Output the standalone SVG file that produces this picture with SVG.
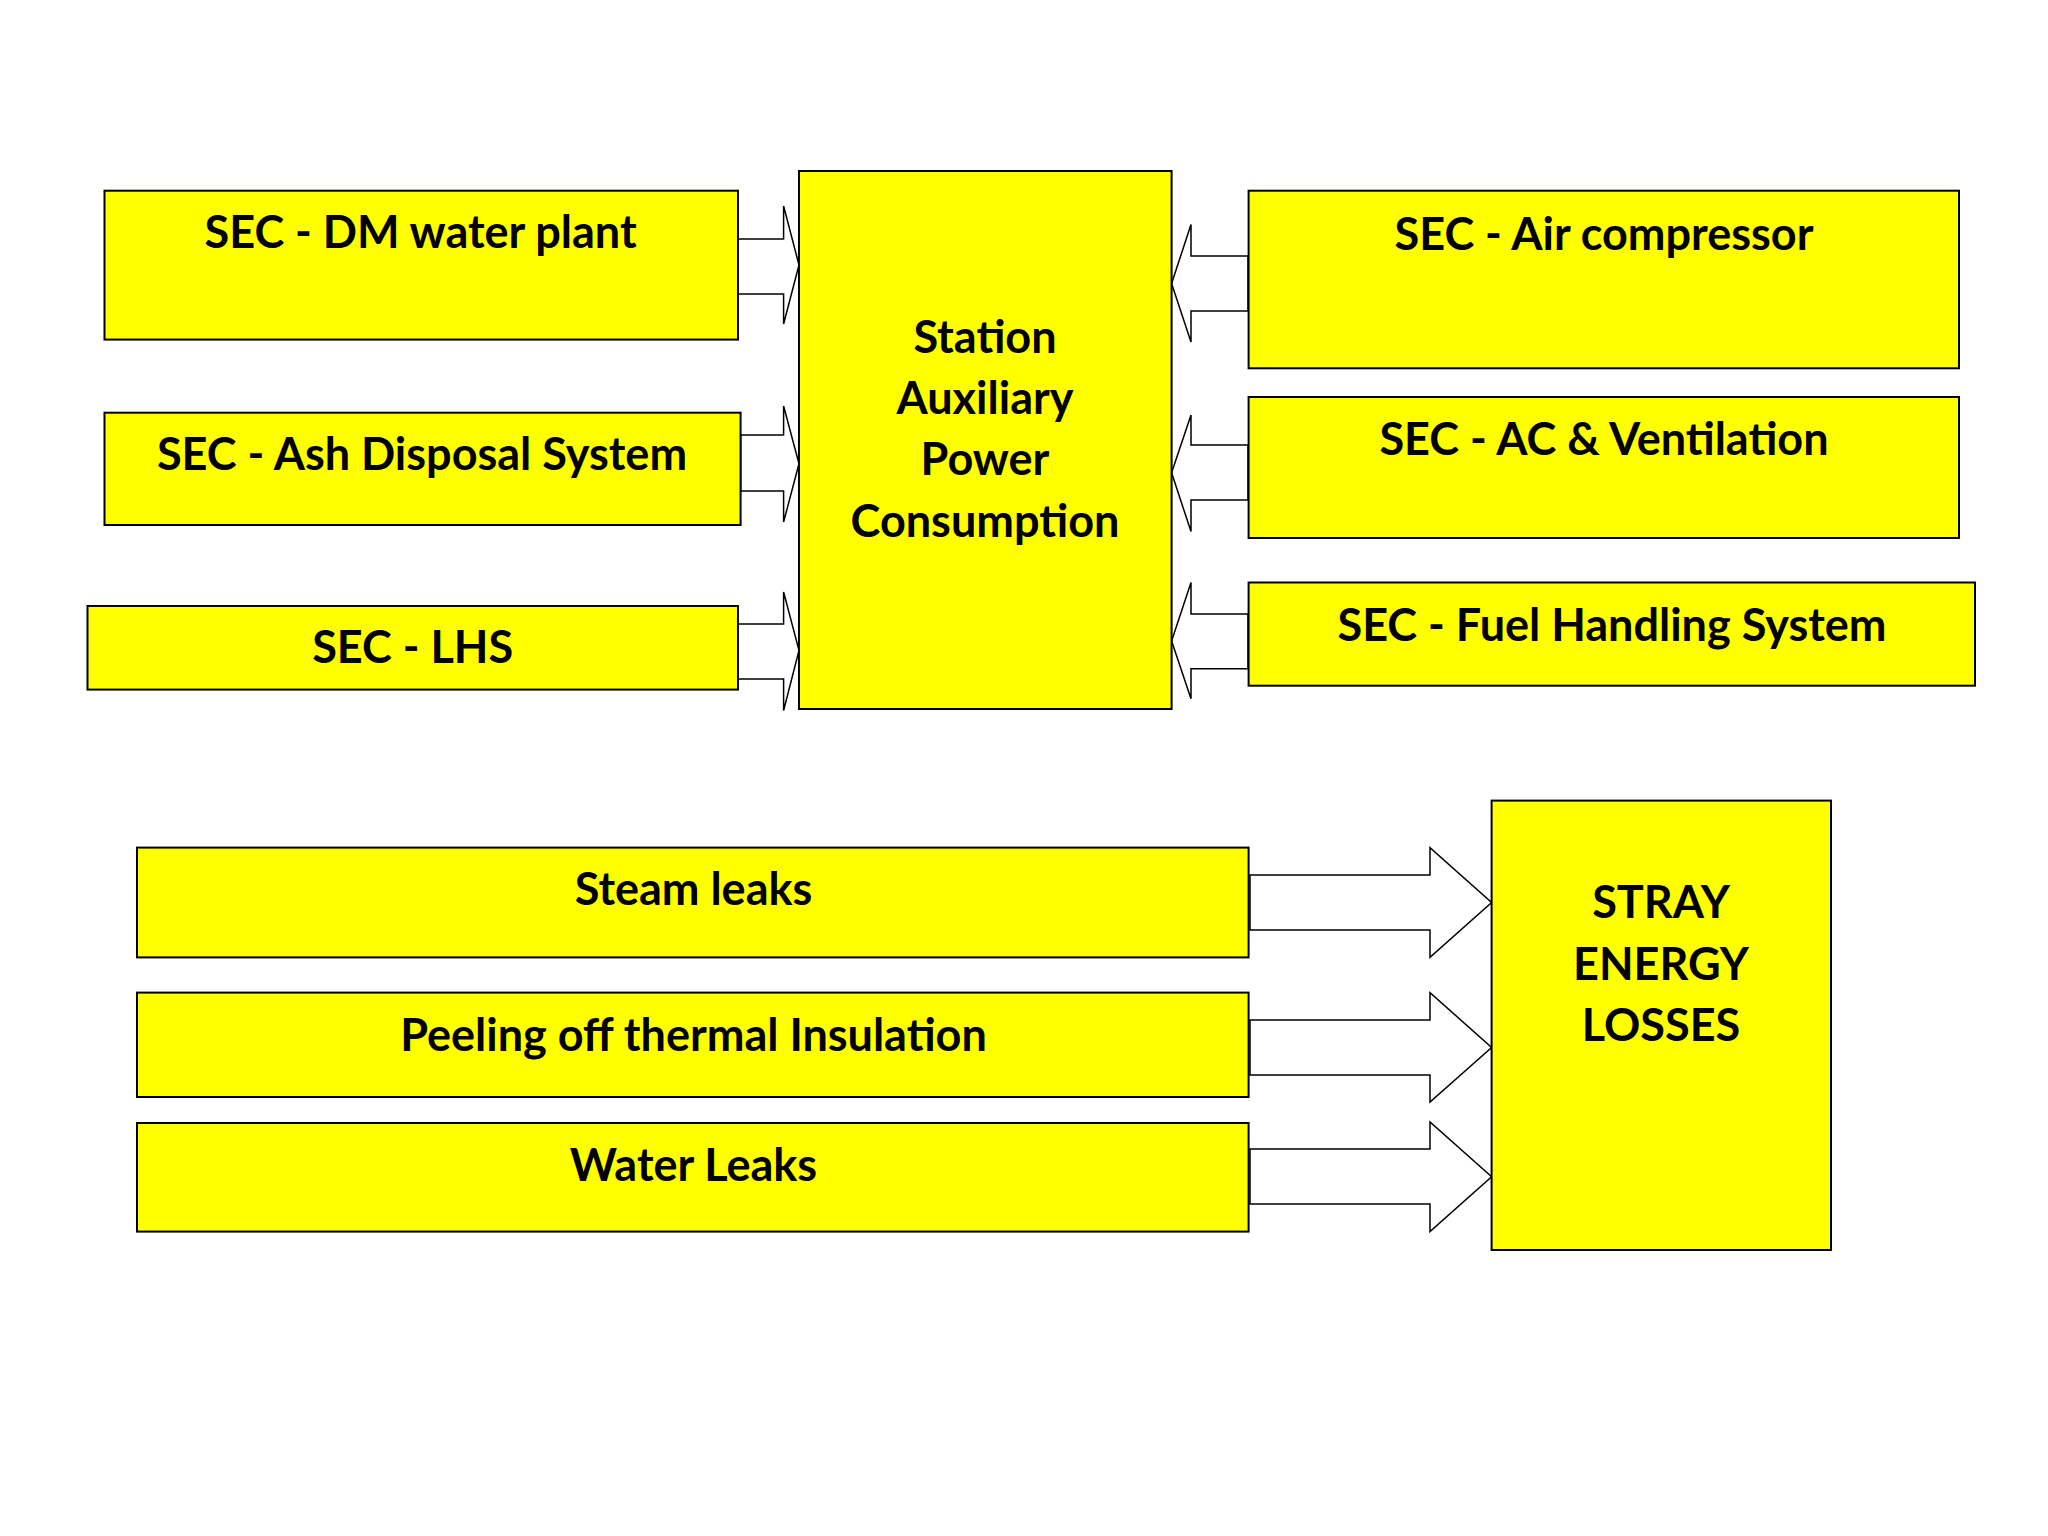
<svg xmlns="http://www.w3.org/2000/svg" width="2048" height="1536" viewBox="0 0 2048 1536">
<style>
.b{fill:#ffff00;stroke:#000;stroke-width:2}
.a{fill:#fff;stroke:#000;stroke-width:1.5}
text{font-family:Lato,"Open Sans",sans-serif;font-weight:bold;font-size:45px;text-anchor:middle;fill:#000}
</style>
<rect width="2048" height="1536" fill="#fff"/>
<g id="connectors">
<polygon class="a" points="738,239 783.6,239 783.6,206 799,265 783.6,324 783.6,294 738,294"/>
<polygon class="a" points="740.6,435 783.6,435 783.6,406 799,463.7 783.6,522 783.6,491 740.6,491"/>
<polygon class="a" points="738,624 783.6,624 783.6,592 799,650.4 783.6,710.5 783.6,679 738,679"/>
<polygon class="a" points="1248,256 1191,256 1191,224.6 1171.6,283.4 1191,342 1191,311 1248,311"/>
<polygon class="a" points="1248,445 1191,445 1191,415 1171.6,472.8 1191,531.6 1191,500 1248,500"/>
<polygon class="a" points="1248,614 1191,614 1191,582.5 1171.6,641 1191,698.7 1191,668.7 1248,668.7"/>
<polygon class="a" points="1250,875 1430,875 1430,847.6 1491.6,902.5 1430,957.4 1430,930 1250,930"/>
<polygon class="a" points="1250,1020 1430,1020 1430,992.6 1491.6,1047.5 1430,1102 1430,1075 1250,1075"/>
<polygon class="a" points="1250,1149 1430,1149 1430,1122 1491.6,1176.8 1430,1231.6 1430,1204 1250,1204"/>
</g>
<g id="dm"><rect class="b" x="104.5" y="190.7" width="633.5" height="148.9"/><text x="420.6" y="248">SEC - DM water plant</text></g>
<g id="ash"><rect class="b" x="104.5" y="412.7" width="636.1" height="112.3"/><text x="422" y="470">SEC - Ash Disposal System</text></g>
<g id="lhs"><rect class="b" x="87.5" y="606" width="650.5" height="83.6"/><text x="412.7" y="663">SEC - LHS</text></g>
<g id="center"><rect class="b" x="799" y="171" width="372.6" height="538"/>
<text x="985" y="352.6">Station</text><text x="985" y="414">Auxiliary</text><text x="985" y="475.4">Power</text><text x="985" y="537">Consumption</text></g>
<g id="air"><rect class="b" x="1248.6" y="190.7" width="710.4" height="177.6"/><text x="1604" y="249.5">SEC - Air compressor</text></g>
<g id="ac"><rect class="b" x="1248.6" y="397" width="710.4" height="141"/><text x="1604" y="454.5">SEC - AC &amp; Ventilation</text></g>
<g id="fuel"><rect class="b" x="1248.6" y="582.5" width="726.4" height="103.2"/><text x="1612" y="641">SEC - Fuel Handling System</text></g>
<g id="steam"><rect class="b" x="137" y="847.6" width="1111.6" height="109.8"/><text x="693.5" y="905">Steam leaks</text></g>
<g id="peeling"><rect class="b" x="137" y="992.6" width="1111.6" height="104.4"/><text x="693.5" y="1051.4">Peeling off thermal Insulation</text></g>
<g id="water"><rect class="b" x="137" y="1123" width="1111.6" height="108.6"/><text x="693.5" y="1180.7">Water Leaks</text></g>
<g id="stray"><rect class="b" x="1491.6" y="800.6" width="339.4" height="449.4"/>
<text x="1661" y="918">STRAY</text><text x="1661" y="979.6">ENERGY</text><text x="1661" y="1041">LOSSES</text></g>
</svg>
